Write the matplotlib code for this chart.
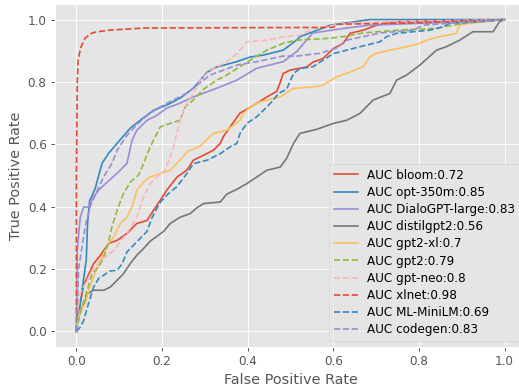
import matplotlib
matplotlib.use("Agg")
import matplotlib.pyplot as plt

plt.style.use("ggplot")

labels = ["bloom", "opt-350m", "DialoGPT-large", "distilgpt2", "gpt2-xl",
          "gpt2", "gpt-neo", "xlnet", "ML-MiniLM", "codegen"]
aucs = [0.72, 0.85, 0.83, 0.56, 0.7, 0.79, 0.8, 0.98, 0.69, 0.83]

fpr_bloom = [0, 0.002, 0.009, 0.017, 0.033, 0.04, 0.056, 0.075, 0.095, 0.118, 0.141, 0.165, 0.18, 0.196,
             0.211, 0.235, 0.258, 0.273, 0.297, 0.32, 0.336, 0.343, 0.359, 0.382, 0.421, 0.445, 0.468,
             0.476, 0.483, 0.499, 0.538, 0.553, 0.576, 0.6, 0.623, 0.639, 0.67, 0.701, 0.748, 1.0]
tpr_bloom = [0, 0.035, 0.09, 0.148, 0.196, 0.217, 0.244, 0.282, 0.292, 0.314, 0.346, 0.356, 0.388, 0.421,
             0.453, 0.495, 0.517, 0.549, 0.565, 0.581, 0.603, 0.624, 0.656, 0.7, 0.731, 0.752, 0.77,
             0.799, 0.827, 0.838, 0.848, 0.864, 0.875, 0.907, 0.924, 0.956, 0.966, 0.982, 0.993, 1.0]

fpr_opt = [0, 0.005, 0.012, 0.02, 0.023, 0.026, 0.031, 0.037, 0.044, 0.052, 0.06, 0.075, 0.087, 0.103,
           0.126, 0.149, 0.18, 0.211, 0.242, 0.273, 0.305, 0.328, 0.374, 0.406, 0.436, 0.483, 0.514,
           0.522, 0.576, 0.592, 0.685, 1.0]
tpr_opt = [0, 0.05, 0.12, 0.2, 0.228, 0.347, 0.42, 0.437, 0.459, 0.5, 0.539, 0.571, 0.59, 0.616,
           0.652, 0.677, 0.709, 0.726, 0.748, 0.78, 0.831, 0.848, 0.865, 0.88, 0.886, 0.902, 0.934,
           0.945, 0.973, 0.982, 1.0, 1.0]

fpr_dialo = [0, 0.001, 0.002, 0.009, 0.017, 0.029, 0.04, 0.052, 0.072, 0.095, 0.118, 0.13, 0.141, 0.165,
             0.188, 0.211, 0.242, 0.273, 0.328, 0.375, 0.421, 0.483, 0.514, 0.552, 0.631, 0.685, 0.902, 1.0]
tpr_dialo = [0, 0.1, 0.26, 0.367, 0.399, 0.399, 0.431, 0.453, 0.479, 0.507, 0.539, 0.613, 0.645, 0.677,
             0.693, 0.716, 0.732, 0.752, 0.78, 0.806, 0.844, 0.865, 0.897, 0.957, 0.973, 0.982, 0.993, 1.0]

fpr_distil = [0, 0.002, 0.017, 0.026, 0.04, 0.064, 0.079, 0.095, 0.11, 0.126, 0.141, 0.157, 0.172, 0.188,
              0.204, 0.219, 0.242, 0.266, 0.281, 0.297, 0.336, 0.351, 0.375, 0.398, 0.421, 0.445, 0.476,
              0.491, 0.507, 0.522, 0.561, 0.6, 0.631, 0.662, 0.693, 0.732, 0.748, 0.771, 0.802, 0.841,
              0.864, 0.895, 0.926, 0.973, 0.988, 1.0]
tpr_distil = [0, 0.058, 0.083, 0.121, 0.132, 0.132, 0.142, 0.164, 0.185, 0.218, 0.244, 0.266, 0.289, 0.305,
              0.321, 0.346, 0.366, 0.378, 0.396, 0.41, 0.415, 0.44, 0.456, 0.474, 0.495, 0.517, 0.527,
              0.555, 0.603, 0.635, 0.648, 0.667, 0.677, 0.699, 0.742, 0.763, 0.806, 0.822, 0.854, 0.902,
              0.913, 0.934, 0.961, 0.961, 0.993, 1.0]

fpr_gpt2xl = [0, 0.002, 0.009, 0.021, 0.029, 0.04, 0.052, 0.064, 0.075, 0.087, 0.103, 0.118, 0.13, 0.141,
              0.157, 0.172, 0.196, 0.219, 0.242, 0.258, 0.289, 0.32, 0.351, 0.367, 0.382, 0.39, 0.406,
              0.429, 0.46, 0.476, 0.506, 0.553, 0.576, 0.608, 0.639, 0.67, 0.685, 0.701, 0.732, 0.771,
              0.802, 0.818, 0.848, 0.887, 0.895, 0.918, 1.0]
tpr_gpt2xl = [0, 0.026, 0.067, 0.09, 0.132, 0.174, 0.218, 0.25, 0.283, 0.303, 0.347, 0.367, 0.399, 0.453,
              0.479, 0.495, 0.506, 0.517, 0.549, 0.576, 0.594, 0.635, 0.645, 0.661, 0.677, 0.699, 0.72,
              0.736, 0.747, 0.752, 0.779, 0.784, 0.79, 0.816, 0.832, 0.849, 0.881, 0.892, 0.902, 0.913,
              0.924, 0.934, 0.945, 0.956, 0.982, 0.988, 1.0]

fpr_gpt2 = [0, 0.005, 0.013, 0.025, 0.037, 0.052, 0.064, 0.072, 0.083, 0.095, 0.11, 0.126, 0.145, 0.157,
            0.169, 0.18, 0.196, 0.219, 0.242, 0.254, 0.273, 0.297, 0.328, 0.351, 0.406, 0.445, 0.483,
            0.514, 0.592, 0.631, 0.669, 0.748, 0.841, 0.879, 0.925, 1.0]
tpr_gpt2 = [0, 0.035, 0.078, 0.132, 0.186, 0.206, 0.239, 0.271, 0.335, 0.388, 0.443, 0.479, 0.501, 0.539,
            0.581, 0.613, 0.656, 0.667, 0.677, 0.72, 0.742, 0.777, 0.806, 0.822, 0.87, 0.902, 0.924,
            0.934, 0.94, 0.947, 0.957, 0.966, 0.972, 0.982, 0.993, 1.0]

fpr_neo = [0, 0.002, 0.009, 0.025, 0.037, 0.056, 0.087, 0.118, 0.141, 0.157, 0.172, 0.188, 0.207, 0.219,
           0.227, 0.238, 0.25, 0.262, 0.273, 0.289, 0.305, 0.328, 0.351, 0.375, 0.398, 0.445, 0.483,
           0.522, 0.552, 0.631, 0.709, 1.0]
tpr_neo = [0, 0.058, 0.122, 0.164, 0.196, 0.228, 0.26, 0.315, 0.367, 0.431, 0.474, 0.495, 0.517, 0.56,
           0.592, 0.656, 0.709, 0.742, 0.763, 0.806, 0.827, 0.848, 0.865, 0.891, 0.929, 0.934, 0.945,
           0.95, 0.972, 0.988, 0.993, 1.0]

fpr_xlnet = [0, 0.0, 0.002, 0.004, 0.01, 0.02, 0.035, 0.045, 0.075, 0.16, 0.6, 0.61, 0.8, 1.0]
tpr_xlnet = [0, 0.5, 0.8, 0.87, 0.91, 0.94, 0.956, 0.96, 0.966, 0.973, 0.975, 0.985, 0.99, 1.0]

fpr_minilm = [0, 0.009, 0.017, 0.025, 0.033, 0.04, 0.052, 0.079, 0.095, 0.107, 0.118, 0.141, 0.165, 0.176,
              0.188, 0.196, 0.211, 0.235, 0.258, 0.273, 0.305, 0.336, 0.359, 0.375, 0.382, 0.398, 0.421,
              0.445, 0.46, 0.472, 0.491, 0.507, 0.522, 0.553, 0.576, 0.6, 0.631, 0.662, 0.709, 0.724,
              0.748, 0.825, 0.856, 0.872, 0.942, 1.0]
tpr_minilm = [0, 0.014, 0.035, 0.074, 0.11, 0.142, 0.17, 0.194, 0.196, 0.217, 0.255, 0.287, 0.321, 0.363,
              0.395, 0.414, 0.437, 0.465, 0.506, 0.538, 0.549, 0.57, 0.592, 0.603, 0.635, 0.667, 0.688,
              0.72, 0.742, 0.763, 0.777, 0.827, 0.843, 0.849, 0.87, 0.891, 0.902, 0.913, 0.929, 0.945,
              0.956, 0.966, 0.977, 0.988, 0.993, 1.0]

fpr_codegen = [0, 0.002, 0.005, 0.013, 0.021, 0.033, 0.052, 0.063, 0.083, 0.095, 0.118, 0.145, 0.172, 0.196,
               0.226, 0.258, 0.312, 0.375, 0.421, 0.483, 0.515, 0.569, 0.608, 0.631, 0.709, 0.786, 0.809,
               0.879, 1.0]
tpr_codegen = [0, 0.058, 0.2, 0.27, 0.34, 0.404, 0.462, 0.494, 0.539, 0.581, 0.629, 0.668, 0.7, 0.72,
               0.742, 0.764, 0.822, 0.854, 0.865, 0.883, 0.883, 0.892, 0.909, 0.934, 0.957, 0.966, 0.982,
               0.989, 1.0]

fprs = [fpr_bloom, fpr_opt, fpr_dialo, fpr_distil, fpr_gpt2xl,
        fpr_gpt2, fpr_neo, fpr_xlnet, fpr_minilm, fpr_codegen]
tprs = [tpr_bloom, tpr_opt, tpr_dialo, tpr_distil, tpr_gpt2xl,
        tpr_gpt2, tpr_neo, tpr_xlnet, tpr_minilm, tpr_codegen]

W, H, DPI = 519, 391, 86
fig = plt.figure(figsize=(W / DPI, H / DPI), dpi=DPI)
ax = fig.add_axes([55 / W, 44 / H, 471 / W, 343 / H])

for i, (name, auc, f, t) in enumerate(zip(labels, aucs, fprs, tprs)):
    ls = "-" if i < 5 else "--"
    ax.plot(f, t, ls, lw=1.4, label=f"AUC {name}:{auc}")

ax.set_xlim(-0.05, 1.05)
ax.set_ylim(-0.05, 1.05)
ax.set_xticks([0, 0.2, 0.4, 0.6, 0.8, 1.0])
ax.set_yticks([0, 0.2, 0.4, 0.6, 0.8, 1.0])
ax.set_xlabel("False Positive Rate")
ax.set_ylabel("True Positive Rate")
ax.legend(loc="lower right", labelspacing=0.35, borderaxespad=0.5)

fig.savefig("out.png", dpi=DPI)
